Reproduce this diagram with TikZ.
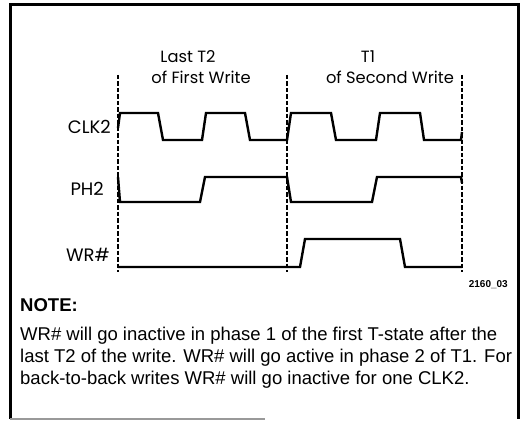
\documentclass[tikz,border=0pt]{standalone}
\usepackage{fontspec}
\setmainfont{Liberation Sans}
\newfontfamily\labelfont{Poppins}
\begin{document}
\begin{tikzpicture}[x=1pt,y=-1pt,
  sig/.style={line width=2.4pt, line join=miter},
  divider/.style={line width=2.6pt, dash pattern=on 4.5pt off 2pt},
  frameline/.style={line width=3pt},
  lbl/.style={font=\labelfont\fontsize{16.3}{19}\selectfont, inner sep=0pt},
  sname/.style={font=\labelfont\fontsize{18}{21}\selectfont, inner sep=0pt, anchor=base east},
  notetext/.style={font=\fontsize{18.5}{22}\selectfont, inner sep=0pt, anchor=base west}]
\useasboundingbox (0,0) rectangle (524,422);
% frame
\draw[frameline] (10,419) -- (10,5) -- (518,5) -- (518,419);
\draw[line width=1.2pt, black!40] (10,419) -- (265,419);
% dividers
\coordinate (d1t) at (118,75); \coordinate (d1b) at (118,272);
\coordinate (d2t) at (287,75); \coordinate (d2b) at (287,272);
\coordinate (d3t) at (462,75); \coordinate (d3b) at (462,272);
\draw[divider] (d1t) -- (d1b);
\draw[divider] (d2t) -- (d2b);
\draw[divider] (d3t) -- (d3b);
% headings
\node[lbl, anchor=base] (h1) at (188,63) {Last T2};
\node[lbl, anchor=base] (h2) at (201,84) {of First Write};
\node[lbl, anchor=base] (h3) at (368,63) {T1};
\node[lbl, anchor=base] (h4) at (390,84) {of Second Write};
% signal names
\node[sname] (clk) at (111,134) {CLK2};
\node[sname] (ph) at (104,195) {PH2};
\node[sname] (wr) at (110,261) {WR\#};
% CLK2
\draw[sig] (118,128) -- (120,113) -- (158,113) -- (163,140) -- (202,140) -- (206,113)
  -- (245,113) -- (250,140) -- (287,140) -- (291,113) -- (331,113) -- (336,140)
  -- (376,140) -- (380,113) -- (420,113) -- (424,140) -- (461,140) -- (462,132);
% PH2
\draw[sig] (118,177) -- (120,202) -- (200,202) -- (205,177) -- (287,177) -- (291,202)
  -- (372,202) -- (377,177) -- (461,177) -- (462,183);
% WR#
\draw[sig] (118,267) -- (300,267) -- (305,239) -- (400,239) -- (405,267) -- (462,267);
% figure number
\node[font=\bfseries\fontsize{10}{12}\selectfont, inner sep=0pt, anchor=base east] (fig) at (508,287) {2160\_03};
% note
\node[notetext, font=\bfseries\fontsize{18.5}{22}\selectfont] (nt) at (20,311) {NOTE:};
\node[notetext] (n1) at (20,340) {WR\# will go inactive in phase 1 of the first T-state after the};
\node[notetext] (n2) at (20,362) {last T2 of the write. WR\# will go active in phase 2 of T1. For};
\node[notetext] (n3) at (20,384) {back-to-back writes WR\# will go inactive for one CLK2.};
\end{tikzpicture}
\end{document}
